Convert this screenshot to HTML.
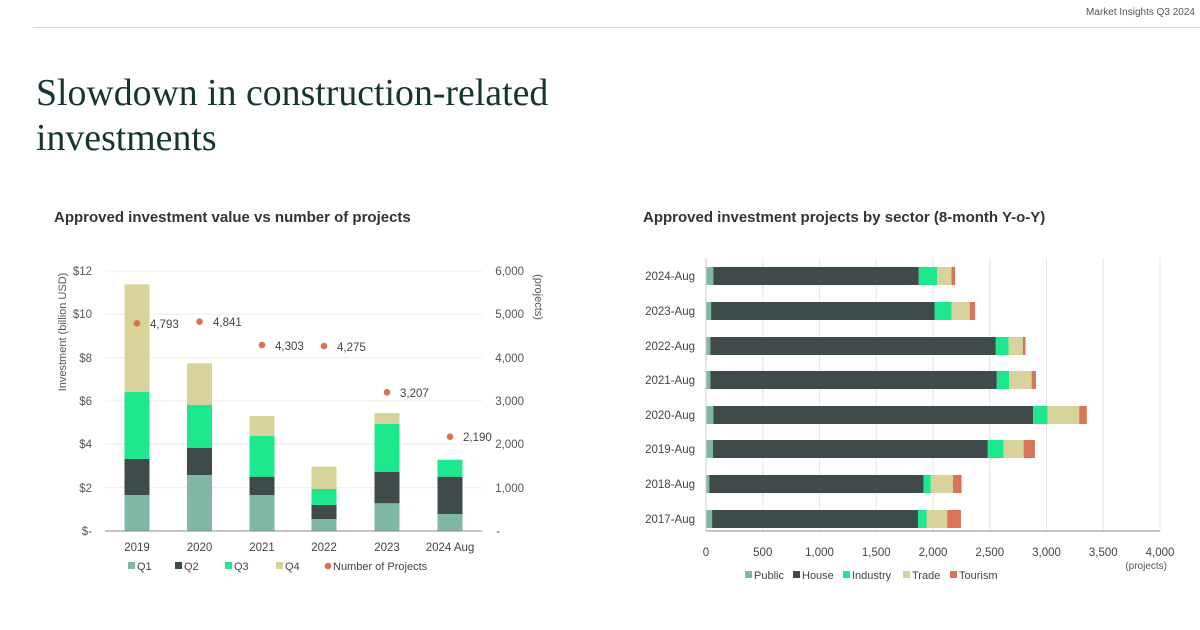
<!DOCTYPE html>
<html><head><meta charset="utf-8"><style>
html,body{margin:0;padding:0;background:#fff;}
svg{display:block;font-family:"Liberation Sans",sans-serif;}
</style></head><body>
<svg width="1200" height="630" viewBox="0 0 1200 630">
<line x1="33" y1="27.5" x2="1200" y2="27.5" stroke="#dcdcdc" stroke-width="1"/>
<text x="1195" y="15" text-anchor="end" font-size="10" fill="#555">Market Insights Q3 2024</text>
<text x="36" y="105" font-family="Liberation Serif,serif" font-size="37.8" fill="#173530">Slowdown in construction-related</text>
<text x="36" y="150" font-family="Liberation Serif,serif" font-size="37.8" fill="#173530">investments</text>
<text x="54" y="222" font-size="15" font-weight="bold" fill="#333">Approved investment value vs number of projects</text>
<text x="643" y="222" font-size="15" font-weight="bold" fill="#333">Approved investment projects by sector (8-month Y-o-Y)</text>

<!-- LEFT CHART -->
<g stroke="#ececec" stroke-width="1">
<line x1="105" y1="271" x2="482" y2="271"/><line x1="105" y1="314.3" x2="482" y2="314.3"/>
<line x1="105" y1="357.7" x2="482" y2="357.7"/><line x1="105" y1="401" x2="482" y2="401"/>
<line x1="105" y1="444.3" x2="482" y2="444.3"/><line x1="105" y1="487.7" x2="482" y2="487.7"/>
</g>
<g font-size="11.5" fill="#555" text-anchor="end">
<text x="92" y="275">$12</text><text x="92" y="318">$10</text><text x="92" y="362">$8</text>
<text x="92" y="405">$6</text><text x="92" y="448">$4</text><text x="92" y="492">$2</text><text x="92" y="535">$-</text>
<text x="524" y="275">6,000</text><text x="524" y="318">5,000</text><text x="524" y="362">4,000</text>
<text x="524" y="405">3,000</text><text x="524" y="448">2,000</text><text x="524" y="492">1,000</text><text x="500" y="535">-</text>
</g>
<text transform="translate(66,332) rotate(-90)" text-anchor="middle" font-size="11" fill="#555">Investment (billion USD)</text>
<text transform="translate(535,297) rotate(90)" text-anchor="middle" font-size="11" fill="#555">(projects)</text>
<g>
<rect x="124.5" y="495" width="25" height="36" fill="#7fb8a4"/><rect x="124.5" y="459" width="25" height="36" fill="#3f4b4b"/><rect x="124.5" y="391.7" width="25" height="67.3" fill="#1de88e"/><rect x="124.5" y="284.3" width="25" height="107.4" fill="#d8d39a"/>
<rect x="187" y="475" width="25" height="56" fill="#7fb8a4"/><rect x="187" y="447.7" width="25" height="27.3" fill="#3f4b4b"/><rect x="187" y="405" width="25" height="42.7" fill="#1de88e"/><rect x="187" y="363.3" width="25" height="41.7" fill="#d8d39a"/>
<rect x="249.5" y="495" width="25" height="36" fill="#7fb8a4"/><rect x="249.5" y="476.7" width="25" height="18.3" fill="#3f4b4b"/><rect x="249.5" y="436" width="25" height="40.7" fill="#1de88e"/><rect x="249.5" y="416" width="25" height="20" fill="#d8d39a"/>
<rect x="311.5" y="519" width="25" height="12" fill="#7fb8a4"/><rect x="311.5" y="505" width="25" height="14" fill="#3f4b4b"/><rect x="311.5" y="489" width="25" height="16" fill="#1de88e"/><rect x="311.5" y="466.7" width="25" height="22.3" fill="#d8d39a"/>
<rect x="374.5" y="503.3" width="25" height="27.7" fill="#7fb8a4"/><rect x="374.5" y="471.7" width="25" height="31.6" fill="#3f4b4b"/><rect x="374.5" y="424" width="25" height="47.7" fill="#1de88e"/><rect x="374.5" y="413" width="25" height="11" fill="#d8d39a"/>
<rect x="437.5" y="514" width="25" height="17" fill="#7fb8a4"/><rect x="437.5" y="476.7" width="25" height="37.3" fill="#3f4b4b"/><rect x="437.5" y="459.7" width="25" height="17" fill="#1de88e"/>
</g>
<line x1="105" y1="531" x2="482" y2="531" stroke="#888" stroke-width="1"/>
<g fill="#d9734f">
<circle cx="137" cy="323.3" r="3.3"/><circle cx="199.5" cy="321.7" r="3.3"/><circle cx="262" cy="345" r="3.3"/>
<circle cx="324" cy="346" r="3.3"/><circle cx="387" cy="392.3" r="3.3"/><circle cx="450" cy="436.7" r="3.3"/>
</g>
<g font-size="11.5" fill="#444">
<text x="150" y="328">4,793</text><text x="213" y="326">4,841</text><text x="275" y="350">4,303</text>
<text x="337" y="351">4,275</text><text x="400" y="397">3,207</text><text x="463" y="441">2,190</text>
</g>
<g font-size="11.5" fill="#444" text-anchor="middle">
<text x="137" y="551">2019</text><text x="199.5" y="551">2020</text><text x="262" y="551">2021</text>
<text x="324" y="551">2022</text><text x="387" y="551">2023</text><text x="450" y="551">2024 Aug</text>
</g>
<g font-size="11" fill="#444">
<rect x="128" y="562" width="7" height="7" fill="#7fb8a4"/><text x="137" y="570">Q1</text>
<rect x="175" y="562" width="7" height="7" fill="#3f4b4b"/><text x="184" y="570">Q2</text>
<rect x="225" y="562" width="7" height="7" fill="#1de88e"/><text x="234" y="570">Q3</text>
<rect x="276" y="562" width="7" height="7" fill="#d8d39a"/><text x="285" y="570">Q4</text>
<circle cx="328" cy="566" r="3.3" fill="#d9734f"/><text x="333" y="570">Number of Projects</text>
</g>

<!-- RIGHT CHART -->
<g stroke="#e6e6e6" stroke-width="1">
<line x1="762.75" y1="258" x2="762.75" y2="531"/><line x1="819.5" y1="258" x2="819.5" y2="531"/>
<line x1="876.25" y1="258" x2="876.25" y2="531"/><line x1="933" y1="258" x2="933" y2="531"/>
<line x1="989.75" y1="258" x2="989.75" y2="531"/><line x1="1046.5" y1="258" x2="1046.5" y2="531"/>
<line x1="1103.25" y1="258" x2="1103.25" y2="531"/><line x1="1160" y1="258" x2="1160" y2="531"/>
</g>
<g transform="translate(706,0)">
<g transform="translate(0,267)"><rect x="0" width="7.3" height="18" fill="#7fb8a4"/><rect x="7.3" width="205.5" height="18" fill="#3f4b4b"/><rect x="212.8" width="18.2" height="18" fill="#1de88e"/><rect x="231" width="14.5" height="18" fill="#d8d39a"/><rect x="245.5" width="3.6" height="18" fill="#d9735a"/></g>
<g transform="translate(0,302)"><rect x="0" width="5.1" height="18" fill="#7fb8a4"/><rect x="5.1" width="223.4" height="18" fill="#3f4b4b"/><rect x="228.5" width="17" height="18" fill="#1de88e"/><rect x="245.5" width="18.2" height="18" fill="#d8d39a"/><rect x="263.7" width="5.4" height="18" fill="#d9735a"/></g>
<g transform="translate(0,337)"><rect x="0" width="4.3" height="18" fill="#7fb8a4"/><rect x="4.3" width="285.5" height="18" fill="#3f4b4b"/><rect x="289.8" width="12.7" height="18" fill="#1de88e"/><rect x="302.5" width="14.4" height="18" fill="#d8d39a"/><rect x="316.9" width="2.6" height="18" fill="#d9735a"/></g>
<g transform="translate(0,371)"><rect x="0" width="4.3" height="18" fill="#7fb8a4"/><rect x="4.3" width="286.5" height="18" fill="#3f4b4b"/><rect x="290.8" width="12.4" height="18" fill="#1de88e"/><rect x="303.2" width="22.4" height="18" fill="#d8d39a"/><rect x="325.6" width="4.3" height="18" fill="#d9735a"/></g>
<g transform="translate(0,406)"><rect x="0" width="7.3" height="18" fill="#7fb8a4"/><rect x="7.3" width="319.8" height="18" fill="#3f4b4b"/><rect x="327.1" width="14.5" height="18" fill="#1de88e"/><rect x="341.6" width="31.6" height="18" fill="#d8d39a"/><rect x="373.2" width="7.6" height="18" fill="#d9735a"/></g>
<g transform="translate(0,440)"><rect x="0" width="6.9" height="18" fill="#7fb8a4"/><rect x="6.9" width="274.9" height="18" fill="#3f4b4b"/><rect x="281.8" width="15.9" height="18" fill="#1de88e"/><rect x="297.7" width="20" height="18" fill="#d8d39a"/><rect x="317.7" width="11.2" height="18" fill="#d9735a"/></g>
<g transform="translate(0,475)"><rect x="0" width="3.3" height="18" fill="#7fb8a4"/><rect x="3.3" width="214.3" height="18" fill="#3f4b4b"/><rect x="217.6" width="7.2" height="18" fill="#1de88e"/><rect x="224.8" width="22.2" height="18" fill="#d8d39a"/><rect x="247" width="8.6" height="18" fill="#d9735a"/></g>
<g transform="translate(0,510)"><rect x="0" width="6.1" height="18" fill="#7fb8a4"/><rect x="6.1" width="206" height="18" fill="#3f4b4b"/><rect x="212.1" width="8.4" height="18" fill="#1de88e"/><rect x="220.5" width="20.7" height="18" fill="#d8d39a"/><rect x="241.2" width="13.7" height="18" fill="#d9735a"/></g>
</g>
<line x1="706" y1="531" x2="1160" y2="531" stroke="#888" stroke-width="1"/>
<line x1="706" y1="258" x2="706" y2="531" stroke="#ccc" stroke-width="1"/>
<g font-size="11.5" fill="#444" text-anchor="end">
<text x="695" y="280">2024-Aug</text><text x="695" y="315">2023-Aug</text><text x="695" y="350">2022-Aug</text>
<text x="695" y="384">2021-Aug</text><text x="695" y="419">2020-Aug</text><text x="695" y="453">2019-Aug</text>
<text x="695" y="488">2018-Aug</text><text x="695" y="523">2017-Aug</text>
</g>
<g font-size="11.5" fill="#444" text-anchor="middle">
<text x="706" y="556">0</text><text x="762.75" y="556">500</text><text x="819.5" y="556">1,000</text>
<text x="876.25" y="556">1,500</text><text x="933" y="556">2,000</text><text x="989.75" y="556">2,500</text>
<text x="1046.5" y="556">3,000</text><text x="1103.25" y="556">3,500</text><text x="1160" y="556">4,000</text>
</g>
<text x="1167" y="569" font-size="10" fill="#555" text-anchor="end">(projects)</text>
<g font-size="11" fill="#444">
<rect x="745" y="571" width="7" height="7" fill="#7fb8a4"/><text x="754" y="579">Public</text>
<rect x="793" y="571" width="7" height="7" fill="#3f4b4b"/><text x="802" y="579">House</text>
<rect x="843" y="571" width="7" height="7" fill="#1de88e"/><text x="852" y="579">Industry</text>
<rect x="903" y="571" width="7" height="7" fill="#d8d39a"/><text x="912" y="579">Trade</text>
<rect x="950" y="571" width="7" height="7" fill="#d9735a"/><text x="959" y="579">Tourism</text>
</g>
</svg>
</body></html>
